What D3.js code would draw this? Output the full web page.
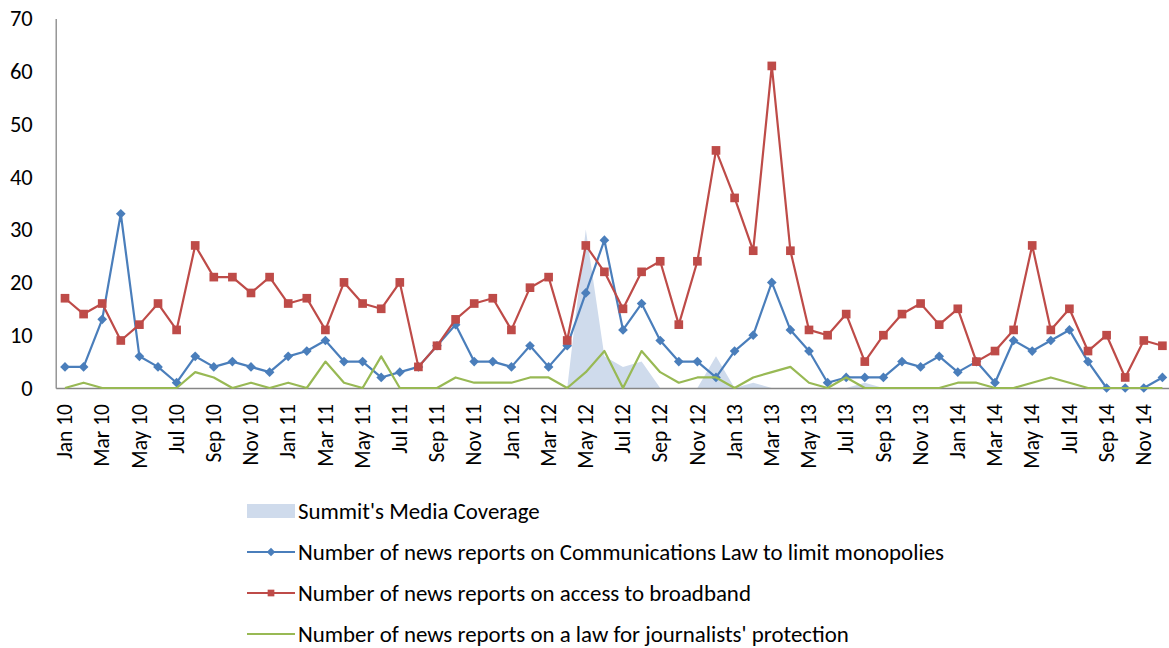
<!DOCTYPE html>
<html lang="en">
<head>
	<meta charset="UTF-8">
	<title>news reports</title>
	<script src="https://cdn.jsdelivr.net/npm/d3@7"></script>
	<style>
		body { margin: 0; background: #fff; }
		text { font-family: Calibri, Carlito, Lato, sans-serif; fill: #000; }
	</style>
</head>
<body>
	<script>
	let months = [
		'Jan 10', 'Feb 10', 'Mar 10', 'Apr 10', 'May 10', 'Jun 10', 'Jul 10', 'Aug 10', 'Sep 10', 'Oct 10', 'Nov 10', 'Dec 10',
		'Jan 11', 'Feb 11', 'Mar 11', 'Apr 11', 'May 11', 'Jun 11', 'Jul 11', 'Aug 11', 'Sep 11', 'Oct 11', 'Nov 11', 'Dec 11',
		'Jan 12', 'Feb 12', 'Mar 12', 'Apr 12', 'May 12', 'Jun 12', 'Jul 12', 'Aug 12', 'Sep 12', 'Oct 12', 'Nov 12', 'Dec 12',
		'Jan 13', 'Feb 13', 'Mar 13', 'Apr 13', 'May 13', 'Jun 13', 'Jul 13', 'Aug 13', 'Sep 13', 'Oct 13', 'Nov 13', 'Dec 13',
		'Jan 14', 'Feb 14', 'Mar 14', 'Apr 14', 'May 14', 'Jun 14', 'Jul 14', 'Aug 14', 'Sep 14', 'Oct 14', 'Nov 14', 'Dec 14'
	]
	// every second month gets a label
	let tickLabels = months.filter((m, i) => i % 2 == 0)
	let yTicks = [0, 10, 20, 30, 40, 50, 60, 70]

	let summit = [
		0, 0, 0, 0, 0, 0, 0, 0, 0, 0, 0, 0,
		0, 0, 0, 0, 0, 0, 0, 0, 0, 0, 0, 0,
		0, 0, 0, 0, 30, 6, 4, 5, 0, 0, 0, 6,
		0, 1, 0, 0, 0, 0, 0, 1, 0, 0, 0, 0,
		0, 0, 0, 0, 0, 0, 0, 0, 0, 0, 0, 0
	]
	let commLaw = [
		4, 4, 13, 33, 6, 4, 1, 6, 4, 5, 4, 3,
		6, 7, 9, 5, 5, 2, 3, 4, 8, 12, 5, 5,
		4, 8, 4, 8, 18, 28, 11, 16, 9, 5, 5, 2,
		7, 10, 20, 11, 7, 1, 2, 2, 2, 5, 4, 6,
		3, 5, 1, 9, 7, 9, 11, 5, 0, 0, 0, 2
	]
	let broadband = [
		17, 14, 16, 9, 12, 16, 11, 27, 21, 21, 18, 21,
		16, 17, 11, 20, 16, 15, 20, 4, 8, 13, 16, 17,
		11, 19, 21, 9, 27, 22, 15, 22, 24, 12, 24, 45,
		36, 26, 61, 26, 11, 10, 14, 5, 10, 14, 16, 12,
		15, 5, 7, 11, 27, 11, 15, 7, 10, 2, 9, 8
	]
	let journalists = [
		0, 1, 0, 0, 0, 0, 0, 3, 2, 0, 1, 0,
		1, 0, 5, 1, 0, 6, 0, 0, 0, 2, 1, 1,
		1, 2, 2, 0, 3, 7, 0, 7, 3, 1, 2, 2,
		0, 2, 3, 4, 1, 0, 2, 0, 0, 0, 0, 0,
		1, 1, 0, 0, 1, 2, 1, 0, 0, 0, 0, 0
	]
	let seriesNames = [
		"Summit's Media Coverage",
		'Number of news reports on Communications Law to limit monopolies',
		'Number of news reports on access to broadband',
		"Number of news reports on a law for journalists' protection"
	]

	let width = 1169, height = 648
	let svg = d3.select('body').append('svg')
		.attr('width', width)
		.attr('height', height)

	let x = d3.scaleBand()
		.domain(months)
		.range([55.7, 55.7 + 18.6 * 60])
	let y = d3.scaleLinear()
		.domain([0, 70])
		.range([388, 18.4])
	let cx = m => x(m) + x.bandwidth() / 2

	// summit area
	let area = d3.area()
		.x((d, i) => cx(months[i]))
		.y0(y(0))
		.y1(d => y(d))
	svg.append('path')
		.attr('d', area(summit))
		.attr('fill', '#cfdbec')

	// axes
	let xAxis = svg.append('g')
		.attr('transform', `translate(0,${y(0)})`)
		.call(d3.axisBottom(x).tickValues(tickLabels).tickSize(0).tickSizeOuter(0))
	xAxis.select('.domain').attr('stroke', '#868686').attr('stroke-width', 1.3)
	xAxis.selectAll('text')
		.attr('font-size', 21.5)
		.attr('text-anchor', 'end')
		.attr('dy', '0.33em')
		.attr('transform', 'translate(0,16) rotate(-90)')
		.attr('x', 0)
		.attr('y', 0)

	let yAxis = svg.append('g')
		.attr('transform', `translate(${x.range()[0]},0)`)
		.call(d3.axisLeft(y).tickValues(yTicks).tickSize(0).tickPadding(23).tickSizeOuter(0))
	yAxis.select('.domain').attr('stroke', '#868686').attr('stroke-width', 1.3)
	yAxis.selectAll('text').attr('font-size', 22.5)

	let line = d3.line()
		.x((d, i) => cx(months[i]))
		.y(d => y(d))

	let diamond = d3.symbol().type(d3.symbolDiamond2).size(60)
	let square = d3.symbol().type(d3.symbolSquare).size(75)

	let lineSeries = [
		{ values: commLaw, color: '#4a7ebb', marker: diamond },
		{ values: broadband, color: '#be4b48', marker: square },
		{ values: journalists, color: '#98b954', marker: null }
	]

	lineSeries.forEach(s => {
		svg.append('path')
			.attr('d', line(s.values))
			.attr('fill', 'none')
			.attr('stroke', s.color)
			.attr('stroke-width', 2.2)
			.attr('stroke-linejoin', 'round')
		if (s.marker) {
			svg.append('g').selectAll('path')
				.data(s.values)
				.enter()
				.append('path')
				.attr('d', s.marker())
				.attr('transform', (d, i) => `translate(${cx(months[i])},${y(d)})`)
				.attr('fill', s.color)
		}
	})

	// legend
	let legend = svg.append('g').attr('transform', 'translate(247,0)')
	let rowY = [511, 552, 593, 634]
	legend.append('rect')
		.attr('x', 0).attr('y', rowY[0] - 7)
		.attr('width', 48).attr('height', 14)
		.attr('fill', '#cfdbec')
	lineSeries.forEach((s, i) => {
		let ry = rowY[i + 1]
		legend.append('line')
			.attr('x1', 0).attr('x2', 48)
			.attr('y1', ry).attr('y2', ry)
			.attr('stroke', s.color)
			.attr('stroke-width', 2.2)
		if (s.marker) {
			legend.append('path')
				.attr('d', s.marker.size(45)())
				.attr('transform', `translate(24,${ry})`)
				.attr('fill', s.color)
		}
	})
	legend.selectAll('text')
		.data(seriesNames)
		.enter()
		.append('text')
		.attr('x', 51)
		.attr('y', (d, i) => rowY[i])
		.attr('dy', '0.35em')
		.attr('font-size', 22.9)
		.text(d => d)
	</script>
</body>
</html>
